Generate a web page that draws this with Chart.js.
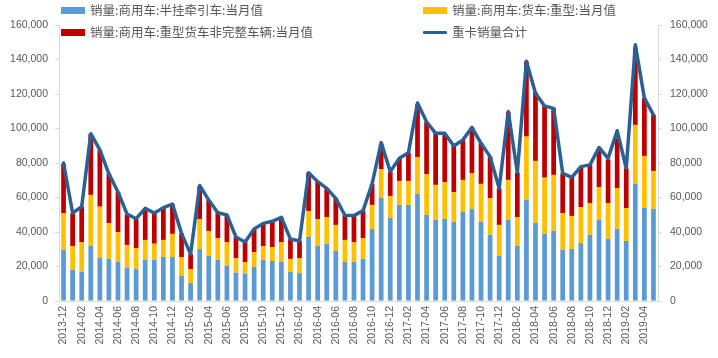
<!DOCTYPE html>
<html>
<head>
<meta charset="utf-8">
<script src="https://cdn.jsdelivr.net/npm/chart.js@4"></script>
<style>
  html, body { margin: 0; padding: 0; background: #fff; }
  #wrap { position: relative; width: 718px; height: 358px; }
  .leg { position: absolute; font: 12.5px "Noto Sans CJK SC", sans-serif; color: #595959; white-space: nowrap; line-height: 16px; }
  .leg i { position: absolute; left: -29px; top: 5px; width: 24px; height: 7px; }
  .leg i.ln { top: 7px; height: 3px; border-radius: 1px; }
</style>
</head>
<body>
<div id="wrap">
  <canvas id="c" width="718" height="358"></canvas>
  <div class="leg" style="left:90px; top:2px;"><i style="background:#5B9BD5"></i>销量:商用车:半挂牵引车:当月值</div>
  <div class="leg" style="left:452px; top:2px;"><i style="background:#FFC000"></i>销量:商用车:货车:重型:当月值</div>
  <div class="leg" style="left:90px; top:24px;"><i style="background:#C00000"></i>销量:商用车:重型货车非完整车辆:当月值</div>
  <div class="leg" style="left:452px; top:24px;"><i class="ln" style="background:#2A6093"></i>重卡销量合计</div>
</div>
<script>
const months = [
  '2013-12','2014-01','2014-02','2014-03','2014-04','2014-05','2014-06','2014-07','2014-08','2014-09','2014-10','2014-11',
  '2014-12','2015-01','2015-02','2015-03','2015-04','2015-05','2015-06','2015-07','2015-08','2015-09','2015-10','2015-11',
  '2015-12','2016-01','2016-02','2016-03','2016-04','2016-05','2016-06','2016-07','2016-08','2016-09','2016-10','2016-11',
  '2016-12','2017-01','2017-02','2017-03','2017-04','2017-05','2017-06','2017-07','2017-08','2017-09','2017-10','2017-11',
  '2017-12','2018-01','2018-02','2018-03','2018-04','2018-05','2018-06','2018-07','2018-08','2018-09','2018-10','2018-11',
  '2018-12','2019-01','2019-02','2019-03','2019-04','2019-05'
];

// 半挂牵引车
const tractor = [
  29600, 18000, 17000, 32100, 24900, 24400, 22800, 19100, 18500, 23800, 23800, 25500,
  25500, 14500, 10400, 30100, 26100, 23800, 20500, 16400, 15900, 19700, 23800, 23200,
  22600, 16800, 16200, 37100, 31900, 33000, 29000, 22600, 22600, 24400, 41700, 59900,
  48100, 55700, 55700, 62000, 49900, 47000, 47600, 45800, 51600, 53400, 45800, 38300,
  26100, 47000, 31900, 58600, 45300, 38900, 40600, 29600, 30200, 33600, 38300, 47000,
  35900, 41700, 34800, 67900, 53900, 53400
];
// 货车:重型
const heavyTruck = [
  21400, 13900, 17200, 29400, 29800, 20800, 17200, 13400, 12200, 11600, 9400, 9900,
  13400, 11000, 8100, 17400, 14500, 12700, 13700, 8500, 6700, 8700, 8100, 8100,
  11600, 7600, 8700, 15100, 15600, 15700, 15100, 12800, 11600, 12100, 14000, 16600,
  12800, 13900, 13900, 21500, 23700, 20300, 21400, 17400, 18600, 20800, 22100, 21400,
  18000, 23200, 16800, 36700, 35900, 32600, 32500, 21400, 19100, 20900, 18500, 19100,
  20900, 23800, 19100, 34200, 30200, 22000
];
// 重型货车非完整车辆
const incomplete = [
  28600, 18900, 20500, 35400, 32900, 28500, 23200, 17700, 17000, 18300, 18600, 18700,
  17300, 13700, 8700, 19000, 17900, 14700, 15700, 12200, 11600, 13300, 13100, 14900,
  14300, 11500, 9900, 22200, 21700, 16600, 15400, 14300, 15300, 15900, 12300, 14500,
  14100, 13100, 16400, 30500, 30300, 29900, 28200, 26700, 23200, 26400, 23500, 24000,
  21200, 39300, 25800, 43500, 39800, 41600, 38600, 23000, 22400, 22900, 22100, 22400,
  25200, 28800, 23000, 44900, 33500, 32500
];
// 重卡销量合计
const total = [
  80000, 51000, 54700, 97000, 87600, 73700, 63200, 50400, 47700, 53700, 51000, 54100,
  56200, 39200, 27200, 67000, 58500, 51200, 49900, 37100, 34200, 41700, 45000, 46200,
  48500, 35900, 34800, 74400, 69200, 65300, 59500, 49700, 49500, 52400, 68000, 91800,
  75000, 82700, 86000, 114800, 103900, 97200, 97200, 89900, 93400, 100600, 91400, 83700,
  65300, 109800, 74500, 139000, 120400, 113100, 111700, 74000, 71700, 77900, 78900, 89000,
  82700, 98700, 76900, 148500, 117600, 107900
];

const axisColor = '#D9D9D9';
const textColor = '#595959';
const tickFont = { family: '"Liberation Sans", Arial, sans-serif', size: 10.5 };

const barDs = (label, data, color) => ({
  type: 'bar', label, data, backgroundColor: color,
  yAxisID: 'y', order: 1, barPercentage: 0.52, categoryPercentage: 1,
});

new Chart(document.getElementById('c'), {
  data: {
    labels: months,
    datasets: [
      barDs('销量:商用车:半挂牵引车:当月值', tractor, '#5B9BD5'),
      barDs('销量:商用车:货车:重型:当月值', heavyTruck, '#FFC000'),
      barDs('销量:商用车:重型货车非完整车辆:当月值', incomplete, '#C00000'),
      {
        type: 'line', label: '重卡销量合计', data: total,
        borderColor: '#2A6093', borderWidth: 3.5, pointRadius: 0,
        borderJoinStyle: 'round', borderCapStyle: 'round',
        tension: 0, yAxisID: 'y1', order: 0,
      },
    ],
  },
  options: {
    responsive: false,
    devicePixelRatio: 1,
    animation: false,
    layout: { padding: { top: 25, left: 0, right: 0, bottom: 0 } },
    plugins: { legend: { display: false }, tooltip: { enabled: false } },
    scales: {
      x: {
        stacked: true,
        grid: { display: false, drawTicks: false },
        border: { color: axisColor },
        ticks: {
          autoSkip: false, minRotation: 90, maxRotation: 90, padding: 5,
          color: textColor, font: tickFont,
          callback: (v, i) => (i % 2 === 0 ? months[i] : ''),
        },
        afterFit: s => { s.height = 57; },
      },
      y: {
        stacked: true, min: 0, max: 160000,
        grid: { drawOnChartArea: false, tickLength: 4, color: axisColor },
        border: { color: axisColor },
        ticks: {
          stepSize: 20000, padding: 7, color: textColor, font: tickFont,
          callback: v => v.toLocaleString('en-US'),
        },
        afterFit: s => { s.width = 59; },
      },
      y1: {
        position: 'right', min: 0, max: 160000,
        grid: { drawOnChartArea: false, tickLength: 4, color: axisColor },
        border: { color: axisColor },
        ticks: {
          stepSize: 20000, padding: 8, color: textColor, font: tickFont,
          callback: v => v.toLocaleString('en-US'),
        },
        afterFit: s => { s.width = 60; },
      },
    },
  },
});
</script>
</body>
</html>
